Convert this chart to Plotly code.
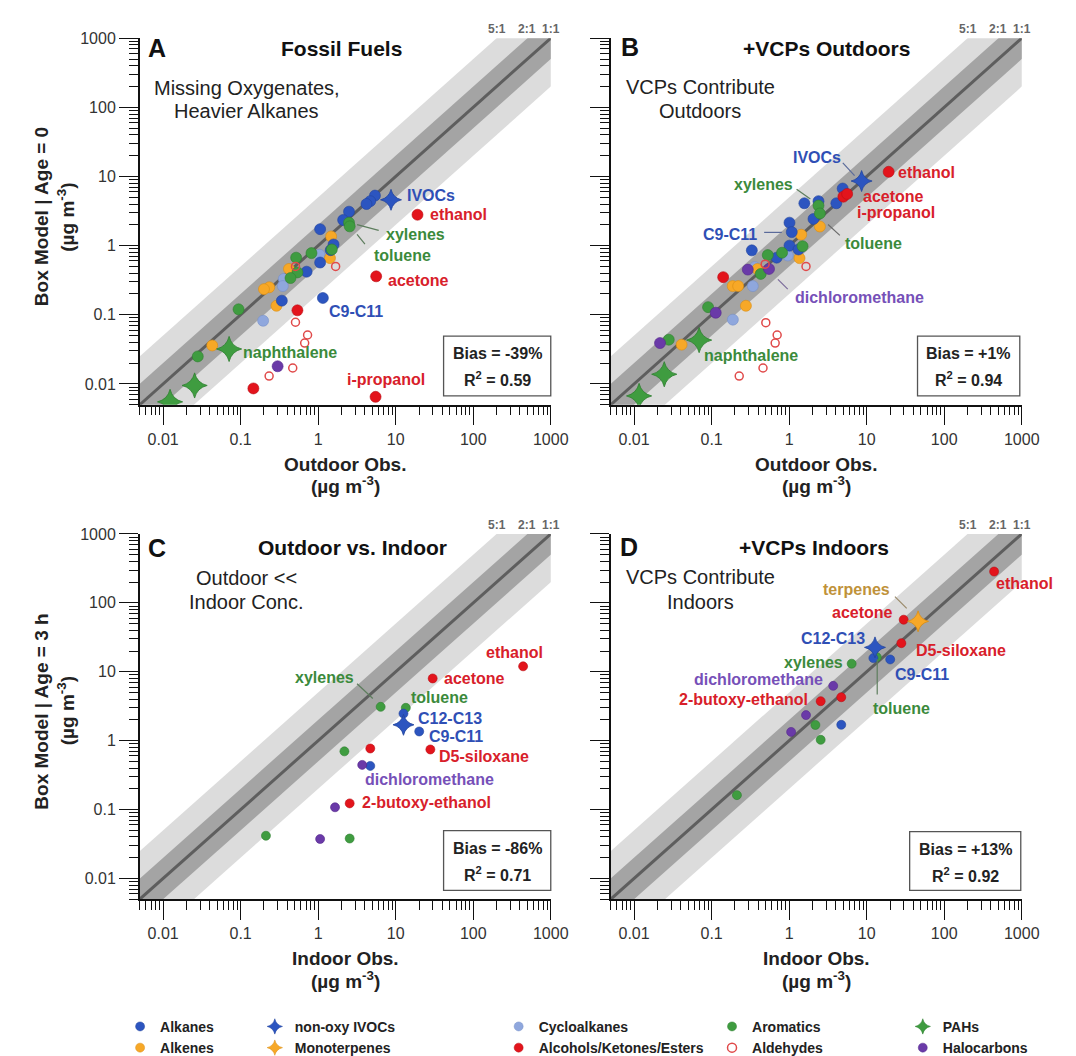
import numpy as np
import plotly.graph_objects as go

# ---------------- data (ug m-3) ----------------
# Panel A: Fossil fuels  (x = outdoor obs, y = box model, age = 0)
A_alkanes_x = [5.4, 4.7, 4.2, 2.5, 2.1, 1.06, 1.58, 1.45, 1.06, 0.71, 0.34, 1.15]
A_alkanes_y = [5.3, 4.4, 4.0, 3.1, 2.35, 1.73, 1.04, 0.86, 0.57, 0.42, 0.16, 0.175]
A_alkenes_x = [1.47, 1.42, 0.42, 0.234, 0.20, 0.29, 0.043]
A_alkenes_y = [1.36, 0.66, 0.46, 0.25, 0.235, 0.135, 0.036]
A_cyclo_x = [0.36, 0.35, 0.195, 1.04]
A_cyclo_y = [0.33, 0.26, 0.082, 0.74]
A_arom_x = [2.5, 2.55, 1.5, 0.82, 0.52, 0.54, 0.44, 0.094, 0.028]
A_arom_y = [2.15, 1.9, 0.88, 0.78, 0.67, 0.41, 0.34, 0.12, 0.025]
A_alc_x = [19.1, 5.6, 0.54, 0.146, 5.5]
A_alc_y = [2.8, 0.36, 0.116, 0.0086, 0.0065]
A_ald_x = [1.68, 0.51, 0.51, 0.73, 0.67, 0.47, 0.233]
A_ald_y = [0.50, 0.50, 0.078, 0.051, 0.039, 0.017, 0.013]
A_halo_x = [0.30]
A_halo_y = [0.018]
A_pah_x = [0.071, 0.0255, 0.0123]
A_pah_y = [0.032, 0.0095, 0.0055]
A_ivoc_x = [8.7]
A_ivoc_y = [4.6]

# Panel B: +VCPs outdoors
B_alkanes_x = [4.9, 4.06, 1.57, 2.39, 2.06, 1.01, 1.08, 0.33, 1.01, 1.32, 0.69]
B_alkanes_y = [6.7, 4.1, 4.1, 4.4, 2.43, 2.15, 1.57, 0.855, 1.0, 0.88, 0.67]
B_alkenes_x = [1.43, 2.49, 1.36, 0.39, 0.187, 0.22, 0.277, 0.041]
B_alkenes_y = [1.44, 1.89, 0.66, 0.46, 0.26, 0.26, 0.135, 0.037]
B_cyclo_x = [0.34, 0.188, 0.96, 0.36]
B_cyclo_y = [0.26, 0.085, 0.72, 0.49]
B_arom_x = [2.39, 2.49, 1.49, 0.81, 0.53, 0.43, 0.09, 0.028]
B_arom_y = [3.8, 2.92, 0.98, 0.79, 0.73, 0.39, 0.129, 0.0436]
B_alc_x = [19.2, 5.0, 5.6, 0.141]
B_alc_y = [11.7, 5.1, 5.6, 0.35]
B_ald_x = [1.65, 0.49, 0.50, 0.70, 0.66, 0.46, 0.227]
B_ald_y = [0.50, 0.54, 0.077, 0.051, 0.039, 0.017, 0.013]
B_halo_x = [0.293, 0.55, 0.113, 0.0216]
B_halo_y = [0.45, 0.46, 0.107, 0.039]
B_pah_x = [0.069, 0.0245, 0.0116]
B_pah_y = [0.043, 0.0138, 0.0067]
B_ivoc_x = [8.6]
B_ivoc_y = [8.6]

# Panel C: outdoor vs. indoor (x = indoor obs, y = box model, age = 3 h)
C_alkanes_x = [12.6, 20.1, 4.7]
C_alkanes_y = [2.47, 1.36, 0.43]
C_arom_x = [13.5, 6.4, 2.18, 0.212, 2.55]
C_arom_y = [3.0, 3.1, 0.70, 0.0417, 0.038]
C_alc_x = [440, 30, 28, 4.7, 2.55]
C_alc_y = [12, 8.0, 0.745, 0.77, 0.123]
C_halo_x = [3.7, 1.65, 1.06]
C_halo_y = [0.445, 0.108, 0.0374]
C_ivoc_x = [12.6]
C_ivoc_y = [1.7]

# Panel D: +VCPs indoors
D_alkanes_x = [12.2, 20.1, 4.7]
D_alkanes_y = [15.8, 15.1, 1.7]
D_arom_x = [13.5, 6.4, 2.18, 0.212, 2.55]
D_arom_y = [16.3, 13.1, 1.69, 0.162, 1.03]
D_alc_x = [440, 30, 28, 4.7, 2.55]
D_alc_y = [285, 57, 26, 4.27, 3.74]
D_halo_x = [3.7, 1.65, 1.06]
D_halo_y = [6.25, 2.35, 1.34]
D_ivoc_x = [12.8]
D_ivoc_y = [22.6]
D_terp_x = [46]
D_terp_y = [54]

tick_vals = [0.01, 0.1, 1, 10, 100, 1000]
tick_text = ["0.01", "0.1", "1", "10", "100", "1000"]
bias_text = {"A": ("Bias = -39%", "0.59"), "B": ("Bias = +1%", "0.94"),
             "C": ("Bias = -86%", "0.71"), "D": ("Bias = +13%", "0.92")}
ratio_bands = [5, 2]

# ---------------- style ----------------
W, H = 1076, 1056
FONT = "Liberation Sans, Arial, sans-serif"
NARROW = "Liberation Sans Narrow, Arial Narrow, Liberation Sans, Arial, sans-serif"

cats = {
    "Alkanes": dict(symbol="circle", color="#2c55c0", line="#23459c"),
    "Alkenes": dict(symbol="circle", color="#f7a827", line="#d98d14"),
    "Cycloalkanes": dict(symbol="circle", color="#8fa7dd", line="#7790c8"),
    "Aromatics": dict(symbol="circle", color="#3f9c40", line="#2f7f30"),
    "Alcohols/Ketones/Esters": dict(symbol="circle", color="#e3141c", line="#b80f15"),
    "Aldehydes": dict(symbol="circle-open", color="#e04a4a", line="#e04a4a"),
    "Halocarbons": dict(symbol="circle", color="#6a3aa8", line="#55298c"),
    "PAHs": dict(symbol="star-diamond", color="#3f9c40", line="#2f7f30"),
    "non-oxy IVOCs": dict(symbol="star-diamond", color="#2c55c0", line="#23459c"),
    "Monoterpenes": dict(symbol="star-diamond", color="#f7a827", line="#d98d14"),
}

panel_data = {
    "A": [("Cycloalkanes", A_cyclo_x, A_cyclo_y), ("Alkenes", A_alkenes_x, A_alkenes_y),
          ("Alkanes", A_alkanes_x, A_alkanes_y), ("Aromatics", A_arom_x, A_arom_y),
          ("Halocarbons", A_halo_x, A_halo_y), ("Alcohols/Ketones/Esters", A_alc_x, A_alc_y),
          ("Aldehydes", A_ald_x, A_ald_y), ("PAHs", A_pah_x, A_pah_y),
          ("non-oxy IVOCs", A_ivoc_x, A_ivoc_y)],
    "B": [("Cycloalkanes", B_cyclo_x, B_cyclo_y), ("Alkenes", B_alkenes_x, B_alkenes_y),
          ("Alkanes", B_alkanes_x, B_alkanes_y), ("Aromatics", B_arom_x, B_arom_y),
          ("Halocarbons", B_halo_x, B_halo_y), ("Alcohols/Ketones/Esters", B_alc_x, B_alc_y),
          ("Aldehydes", B_ald_x, B_ald_y), ("PAHs", B_pah_x, B_pah_y),
          ("non-oxy IVOCs", B_ivoc_x, B_ivoc_y)],
    "C": [("Aromatics", C_arom_x, C_arom_y), ("Alkanes", C_alkanes_x, C_alkanes_y),
          ("Halocarbons", C_halo_x, C_halo_y), ("Alcohols/Ketones/Esters", C_alc_x, C_alc_y),
          ("non-oxy IVOCs", C_ivoc_x, C_ivoc_y)],
    "D": [("Aromatics", D_arom_x, D_arom_y), ("Alkanes", D_alkanes_x, D_alkanes_y),
          ("Halocarbons", D_halo_x, D_halo_y), ("Alcohols/Ketones/Esters", D_alc_x, D_alc_y),
          ("non-oxy IVOCs", D_ivoc_x, D_ivoc_y), ("Monoterpenes", D_terp_x, D_terp_y)],
}

# panel frames in pixels: x0, x1, ytop, ybottom
frames = {"A": (134, 552, 22.7, 397), "B": (613, 1031, 22.7, 397),
          "C": (134, 552, 529, 902), "D": (613, 1031, 529, 902)}
axis_ids = {"A": "", "B": "2", "C": "3", "D": "4"}

def px(x, y):
    return x / W, 1 - y / H

fig = go.Figure()

BLUE, GREEN, RED, PURPLE, TERP = "#2f4fb5", "#3b8a3b", "#d8202a", "#7650b8", "#c0923a"

# ---------- bands and data ----------
xx = np.array([1e-4, 1e4])
for p, sets in panel_data.items():
    ax = axis_ids[p]
    xa, ya = "x" + ax, "y" + ax
    for r, col in zip(ratio_bands, ["#dcdcdc", "#a4a4a4"]):
        fig.add_trace(go.Scatter(x=list(xx) + list(xx[::-1]), y=list(xx * r) + list(xx[::-1] / r),
                                 fill="toself", fillcolor=col, mode="none", showlegend=False,
                                 hoverinfo="skip", xaxis=xa, yaxis=ya))
    fig.add_trace(go.Scatter(x=xx, y=xx, mode="lines", line=dict(color="#5e5e5e", width=3),
                             showlegend=False, hoverinfo="skip", xaxis=xa, yaxis=ya))
    big = p in ("A", "B")
    for cat, xs, ys in sets:
        st = cats[cat]
        if st["symbol"] == "star-diamond":
            size = (18 if cat == "PAHs" else 15) if big else 15
            lw = 0.8
        elif cat == "Aldehydes":
            size, lw = (8 if big else 7), 1.5
        else:
            size, lw = (11 if big else 9), 0.6
        fig.add_trace(go.Scatter(
            x=xs, y=ys, mode="markers", name=cat, showlegend=False,
            marker=dict(symbol=st["symbol"], size=size, color=st["color"],
                        line=dict(color=st["line"], width=lw)),
            xaxis=xa, yaxis=ya))

# ---------- axes ----------
minor_vals = [k * 10.0 ** e for e in range(-3, 3) for k in range(2, 10)]
minor_vals = [v for v in minor_vals if 0.005 <= v <= 1000]
for p, (x0, x1, yt, yb) in frames.items():
    ax = axis_ids[p]
    common = dict(type="log", range=[np.log10(0.005), 3], showgrid=False, zeroline=False,
                  showline=True, linecolor="#111", linewidth=1.5, ticks="outside",
                  ticklen=19, tickwidth=1.2, tickcolor="#111",
                  tickmode="array", tickvals=tick_vals, ticktext=tick_text,
                  minor=dict(ticks="outside", ticklen=9, tickwidth=1, tickcolor="#111",
                             tickmode="array", tickvals=minor_vals, showgrid=False),
                  tickfont=dict(family=FONT, size=16, color="#333"), fixedrange=True)
    fig.layout["xaxis" + ax] = dict(common, domain=[x0 / W, x1 / W],
                                    anchor="y" + ax)
    fig.layout["yaxis" + ax] = dict(common, domain=[1 - yb / H, 1 - yt / H],
                                    anchor="x" + ax, showticklabels=p in ("A", "C"))

ann = []
shapes = []

def text(t, x, y, size=16, color="#222", bold=True, family=FONT, angle=0, xanchor="center"):
    X, Y = px(x, y)
    ann.append(dict(text=t, x=X, y=Y, xref="paper", yref="paper", showarrow=False,
                    xanchor=xanchor, yanchor="middle", textangle=angle,
                    font=dict(family=family, size=size, color=color,
                              weight="bold" if bold else "normal")))

# panel letters, titles, subtitles
heads = {
    "A": ((152, 33), (339, 33), "Fossil Fuels", (243, 74), "Missing Oxygenates,", (243, 97), "Heavier Alkanes"),
    "B": ((633, 32), (832, 33), "+VCPs Outdoors", (704, 73), "VCPs Contribute", (704, 97), "Outdoors"),
    "C": ((152, 543), (350, 543), "Outdoor vs. Indoor", (243, 574), "Outdoor <<", (243, 598), "Indoor Conc."),
    "D": ((632, 542), (820, 543), "+VCPs Indoors", (704, 573), "VCPs Contribute", (704, 598), "Indoors"),
}
for p, (lp, tp, tt, s1p, s1, s2p, s2) in heads.items():
    text(p, *lp, size=25, color="#111", family=NARROW)
    text(tt, *tp, size=21, color="#111")
    text(s1, *s1p, size=20, color="#222", bold=False)
    text(s2, *s2p, size=20, color="#222", bold=False)

# axis titles
unit = "(\u00b5g m<sup>-3</sup>)"
text("Box Model | Age = 0", 34, 205, size=19, color="#222", angle=-90)
text(unit, 59, 206, size=19, color="#222", angle=-90)
text("Box Model | Age = 3 h", 34, 710, size=19, color="#222", angle=-90)
text(unit, 59, 710, size=19, color="#222", angle=-90)
for (xc, yo, lab) in [(343, 458, "Outdoor Obs."), (822, 458, "Outdoor Obs."),
                      (343, 963, "Indoor Obs."), (822, 963, "Indoor Obs.")]:
    text(lab, xc, yo, size=19, color="#222")
    text(unit, xc, yo + 21, size=19, color="#222")

# ratio labels above each panel (placed at the band edges, y = 5x, 2x, x reaching 1000)
for p, (x0, x1, yt, yb) in frames.items():
    ax = axis_ids[p]
    for lab, xv in [("5:1", 1000 / 5), ("2:1", 1000 / 2), ("1:1", 1000)]:
        ann.append(dict(text=lab, x=np.log10(xv), y=1 - (yt - 9) / H, xref="x" + ax, yref="paper",
                        showarrow=False, xanchor="center", yanchor="middle",
                        font=dict(family=FONT, size=12, color="#666", weight="bold")))

# compound labels
labels = [
    ("IVOCs", 430, 183, BLUE), ("ethanol", 458, 203, RED), ("xylenes", 414, 223, GREEN),
    ("toluene", 401, 245, GREEN), ("acetone", 417, 270, RED), ("C9-C11", 354, 302, BLUE),
    ("naphthalene", 287, 344, GREEN), ("i-propanol", 384, 371, RED),
    ("IVOCs", 823, 145, BLUE), ("ethanol", 934, 160, RED), ("acetone", 901, 184, RED),
    ("i-propanol", 903, 201, RED), ("xylenes", 768, 172, GREEN), ("C9-C11", 734, 223, BLUE),
    ("toluene", 880, 232, GREEN), ("dichloromethane", 866, 287, PURPLE),
    ("naphthalene", 756, 347, GREEN),
    ("ethanol", 515, 650, RED), ("acetone", 474, 677, RED), ("xylenes", 322, 676, GREEN),
    ("toluene", 439, 696, GREEN), ("C12-C13", 450, 717, BLUE), ("C9-C11", 456, 736, BLUE),
    ("D5-siloxane", 484, 756, RED), ("dichloromethane", 429, 780, PURPLE),
    ("2-butoxy-ethanol", 426, 803, RED),
    ("ethanol", 1034, 580, RED), ("terpenes", 863, 586, TERP), ("acetone", 869, 609, RED),
    ("C12-C13", 839, 636, BLUE), ("D5-siloxane", 969, 648, RED), ("xylenes", 819, 660, GREEN),
    ("C9-C11", 930, 673, BLUE), ("dichloromethane", 763, 678, PURPLE),
    ("2-butoxy-ethanol", 748, 698, RED), ("toluene", 909, 707, GREEN),
]
for t, x, y, c in labels:
    text(t, x, y, size=16, color=c)

leaders = [
    (355, 213, 377, 219, "#5d7d5d"), (355, 223, 363, 233, "#5d7d5d"),
    (849, 150, 861, 163, "#5a6a9a"), (802, 177, 816, 187, "#5d7d5d"),
    (769, 221, 787, 221, "#5a6a9a"), (834, 213, 846, 224, "#6a6a6a"),
    (783, 269, 793, 279, "#7a6a9a"),
    (355, 682, 371, 697, "#5d7d5d"),
    (902, 593, 914, 605, "#9a8a6a"), (884, 657, 884, 693, "#5d7d5d"),
]
for x0, y0, x1, y1, c in leaders:
    X0, Y0 = px(x0, y0)
    X1, Y1 = px(x1, y1)
    shapes.append(dict(type="line", xref="paper", yref="paper", x0=X0, y0=Y0, x1=X1, y1=Y1,
                       line=dict(color=c, width=1.2)))

# bias boxes
boxes = {"A": (443, 327, 552, 388), "B": (925, 327, 1029, 388),
         "C": (443, 832, 552, 893), "D": (917, 833, 1030, 893)}
for p, (bx0, by0, bx1, by1) in boxes.items():
    X0, Y0 = px(bx0, by0)
    X1, Y1 = px(bx1, by1)
    shapes.append(dict(type="rect", xref="paper", yref="paper", x0=X0, y0=Y1, x1=X1, y1=Y0,
                       line=dict(color="#555", width=1.3), fillcolor="white", layer="above"))
    cx = (bx0 + bx1) / 2
    b, r2 = bias_text[p]
    text(b, cx, by0 + 18, size=16, color="#222")
    text("R<sup>2</sup> = " + r2, cx, by0 + 44, size=16, color="#222")

# ---------- legend (five columns, each a small legend) ----------
legend_cols = [["Alkanes", "Alkenes"], ["non-oxy IVOCs", "Monoterpenes"],
               ["Cycloalkanes", "Alcohols/Ketones/Esters"], ["Aromatics", "Aldehydes"],
               ["PAHs", "Halocarbons"]]
legend_marker_x = [141, 278, 526, 743, 937]
for i, (col, mx) in enumerate(zip(legend_cols, legend_marker_x)):
    lname = "legend" if i == 0 else f"legend{i + 1}"
    for cat in col:
        st = cats[cat]
        star = st["symbol"] == "star-diamond"
        fig.add_trace(go.Scatter(
            x=[None], y=[None], mode="markers", name=cat, legend=lname,
            marker=dict(symbol=st["symbol"], size=11 if star else 9, color=st["color"],
                        line=dict(color=st["line"], width=1.5 if cat == "Aldehydes" else 0.5))))
    fig.layout[lname] = dict(x=(mx - 27) / W, xanchor="left", y=1 - 1016 / H, yanchor="top",
                             orientation="v", bgcolor="rgba(0,0,0,0)", borderwidth=0,
                             tracegroupgap=0, itemwidth=30,
                             font=dict(family=FONT, size=14, color="#222", weight="bold"))

fig.update_layout(width=W, height=H, margin=dict(l=0, r=0, t=0, b=0),
                  paper_bgcolor="white", plot_bgcolor="white",
                  annotations=ann, shapes=shapes, showlegend=True)
fig.write_html("out.html")
